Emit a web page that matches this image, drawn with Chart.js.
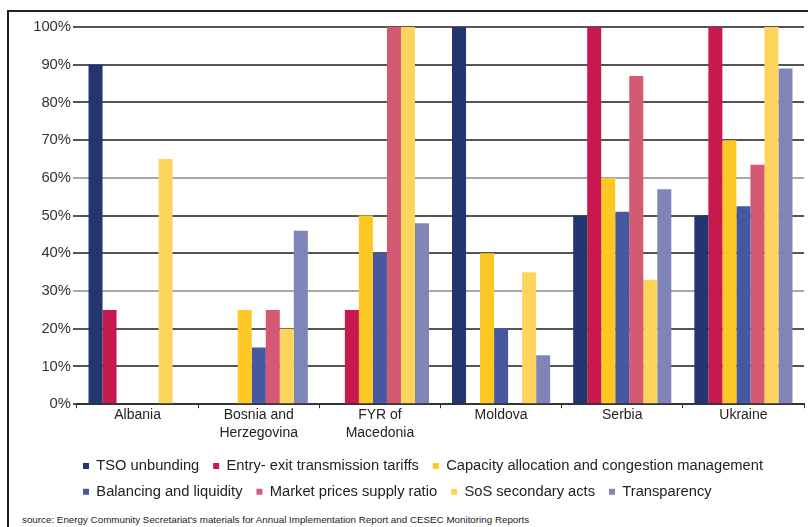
<!DOCTYPE html>
<html>
<head>
<meta charset="utf-8">
<script src="https://cdn.jsdelivr.net/npm/chart.js@4/dist/chart.umd.min.js"></script>
<style>
  html, body { margin: 0; padding: 0; background: #fff; }
  #frame {
    position: absolute; left: 7px; top: 10px; width: 801px; height: 517px;
    border-left: 2px solid #222; border-top: 2px solid #222;
  }
  #wrap { position: absolute; left: 0; top: 0; width: 799px; height: 500px; }
  #source {
    position: absolute; left: 13px; top: 502px;
    font-family: "Liberation Sans", Arial, sans-serif; font-size: 9.8px;
    color: #222; white-space: nowrap;
  }
</style>
</head>
<body>
<div id="frame">
  <div id="wrap"><canvas id="chart"></canvas></div>
  <div id="source">source: Energy Community Secretariat's materials for Annual Implementation Report and CESEC Monitoring Reports</div>
</div>
<script>
// countries on the x axis
const countries = [
  "Albania",
  ["Bosnia and", "Herzegovina"],
  ["FYR of", "Macedonia"],
  "Moldova",
  "Serbia",
  "Ukraine",
];

// share of implementation, in %, one array per measure
const tsoUnbundling = [90, 0, 0, 100, 50, 50];
const entryExitTariffs = [25, 0, 25, 0, 100, 100];
const capacityAllocation = [0, 25, 50, 40, 60, 70];
const balancingLiquidity = [0, 15, 40, 20, 51, 52.5];
const marketPrices = [0, 25, 100, 0, 87, 63.5];
const sosSecondaryActs = [65, 20, 100, 35, 33, 100];
const transparency = [0, 46, 48, 13, 57, 89];

const yTicks = [0, 10, 20, 30, 40, 50, 60, 70, 80, 90, 100];

const fontFamily = '"Liberation Sans", Arial, sans-serif';

const series = [
  { label: "TSO unbunding", data: tsoUnbundling, color: "#243672" },
  { label: "Entry- exit transmission tariffs", data: entryExitTariffs, color: "#c8194f" },
  { label: "Capacity allocation and congestion management", data: capacityAllocation, color: "#fdc823" },
  { label: "Balancing and liquidity", data: balancingLiquidity, color: "#4659a0" },
  { label: "Market prices supply ratio", data: marketPrices, color: "#d45a71" },
  { label: "SoS secondary acts", data: sosSecondaryActs, color: "#fdd55c" },
  { label: "Transparency", data: transparency, color: "#8085b9" },
];

// legend rows start under the plot, not at the canvas edge
const legendShift = {
  id: "legendShift",
  afterLayout(chart) {
    const legend = chart.legend;
    const dx = chart.chartArea.left + 6 - (legend.left + legend.options.labels.padding);
    legend.left += dx;
    legend.right += dx;
  },
};

new Chart(document.getElementById("chart"), {
  type: "bar",
  data: {
    labels: countries,
    datasets: series.map((s) => ({
      label: s.label,
      data: s.data,
      backgroundColor: s.color,
      borderWidth: 0,
      barPercentage: 1,
      categoryPercentage: 0.81,
    })),
  },
  plugins: [legendShift],
  options: {
    responsive: true,
    maintainAspectRatio: false,
    animation: false,
    layout: {
      padding: { left: 12, right: 4, top: 15, bottom: 3 },
    },
    plugins: {
      tooltip: { enabled: false },
      legend: {
        position: "bottom",
        align: "start",
        labels: {
          font: { family: fontFamily, size: 14.7 },
          color: "#222",
          boxWidth: 6,
          boxHeight: 6,
          padding: 11,
          // a thin space after each label, the spacing in the original
          generateLabels: (chart) =>
            Chart.defaults.plugins.legend.labels
              .generateLabels(chart)
              .map((item) => ({ ...item, text: item.text + "\u2009" })),
        },
      },
    },
    scales: {
      x: {
        afterFit: (scale) => {
          scale.height += 7;
        },
        grid: {
          drawOnChartArea: false,
          drawTicks: true,
          tickLength: 4,
          color: "#333",
          lineWidth: 1,
        },
        border: { display: true, color: "#333", width: 2 },
        ticks: {
          font: { family: fontFamily, size: 14, lineHeight: 1.3 },
          color: "#222",
          padding: -2,
          maxRotation: 0,
        },
      },
      y: {
        min: 0,
        max: 100,
        afterFit: (scale) => {
          scale.width = 56;
        },
        afterBuildTicks: (scale) => {
          scale.ticks = yTicks.map((v) => ({ value: v }));
        },
        border: { display: false },
        grid: {
          tickLength: 4,
          lineWidth: 2,
          color: (ctx) =>
            ctx.tick && (ctx.tick.value === 60 || ctx.tick.value === 30)
              ? "#a8a8a8"
              : "#555",
        },
        ticks: {
          font: { family: fontFamily, size: 14.8 },
          color: "#333",
          padding: 2,
          callback: (v) => v + "%",
        },
      },
    },
  },
});
</script>
</body>
</html>
